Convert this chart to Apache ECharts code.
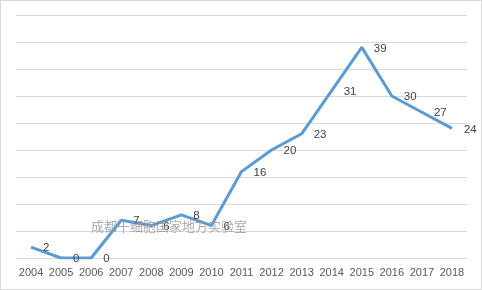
<!DOCTYPE html>
<html><head><meta charset="utf-8">
<script src="https://cdn.jsdelivr.net/npm/echarts@6/dist/echarts.min.js"></script>
<style>html,body{margin:0;padding:0;background:#fff}#c{width:480px;height:288px;border:1px solid #d9d9d9}</style>
</head><body><div id="c"></div>
<script>
const years = ['2004','2005','2006','2007','2008','2009','2010','2011','2012','2013','2014','2015','2016','2017','2018'];
const counts = [2,0,0,7,6,8,6,16,20,23,31,39,30,27,24];
const watermark = '成都干细胞国家地方实验室';
const chart = echarts.init(document.getElementById('c'));
chart.setOption({
  animation:false,
  grid:{left:15,right:14,top:14,bottom:31},
  xAxis:{type:'category',data:years,boundaryGap:true,
    axisLine:{lineStyle:{color:'#d9d9d9'}},axisTick:{show:false},
    axisLabel:{color:'#595959',fontSize:11,fontFamily:'Liberation Sans',margin:9,interval:0}},
  yAxis:{type:'value',min:0,max:45,interval:5,axisLabel:{show:false},
    axisLine:{show:false},axisTick:{show:false},
    splitLine:{lineStyle:{color:'#d9d9d9'}}},
  series:[{type:'line',data:counts,symbol:'circle',symbolSize:2,showSymbol:true,showAllSymbol:true,
    itemStyle:{color:'rgba(0,0,0,0)',borderWidth:0},
    lineStyle:{color:'#5b9bd5',width:3},
    label:{show:true,position:'right',distance:11,color:'#404040',fontSize:11.5,fontFamily:'Liberation Sans',offset:[0,1]}}],
  graphic:[{type:'text',left:90,top:219,z:100,style:{text:watermark,fill:'rgba(150,150,150,0.8)',font:'13px "Noto Sans CJK SC"'}}]
});
</script></body></html>
